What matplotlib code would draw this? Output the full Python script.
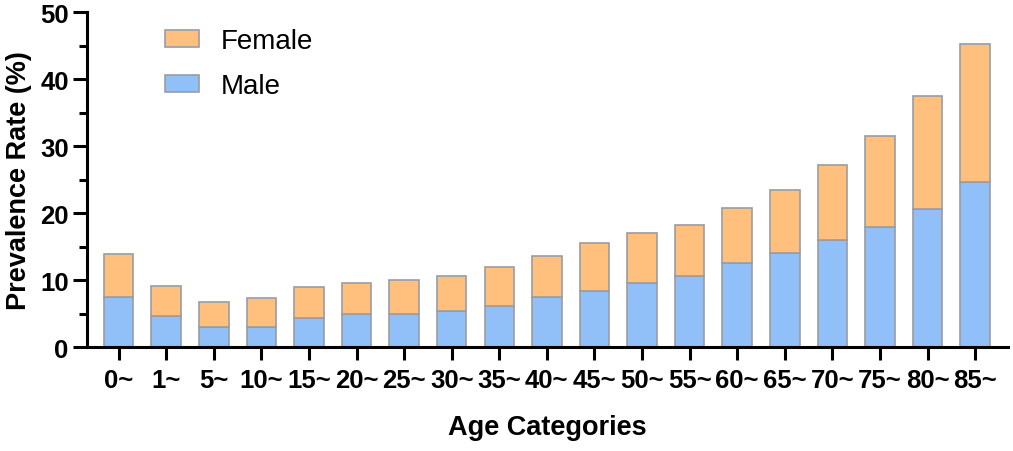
import numpy as np
import matplotlib
matplotlib.use("Agg")
from matplotlib import pyplot as plt
from matplotlib.ticker import MultipleLocator

# data (stacked tops)
ages = ['0~', '1~', '5~', '10~', '15~', '20~', '25~', '30~', '35~', '40~',
        '45~', '50~', '55~', '60~', '65~', '70~', '75~', '80~', '85~']
male = [7.4, 4.6, 3.0, 3.0, 4.3, 4.9, 5.0, 5.4, 6.2, 7.4,
        8.4, 9.5, 10.6, 12.5, 14.1, 16.0, 17.9, 20.6, 24.6]
total = [13.9, 9.1, 6.7, 7.3, 9.0, 9.6, 10.0, 10.6, 12.0, 13.6,
         15.5, 17.0, 18.2, 20.8, 23.5, 27.2, 31.5, 37.5, 45.2]
female = [t - m for t, m in zip(total, male)]

plt.rcParams['font.family'] = ['Liberation Sans', 'DejaVu Sans']

fig = plt.figure(figsize=(10.13, 4.52), dpi=100)
ax = fig.add_axes([0.0856, 0.230, 0.9094, 0.7406])

x = np.arange(len(ages))
edge = '#9a9ca3'
ax.bar(x, male, width=0.62, color='#91bff7', edgecolor=edge, linewidth=1.2, label='Male', zorder=2)
ax.bar(x, female, width=0.62, bottom=male, color='#ffc07e', edgecolor=edge, linewidth=1.2, label='Female', zorder=2)

ax.set_xlim(-0.67, 18.69)
ax.set_ylim(0, 50)
ax.yaxis.set_major_locator(MultipleLocator(10))
ax.yaxis.set_minor_locator(MultipleLocator(5))
ax.set_xticks(x)
ax.set_xticklabels(ages, fontsize=18.5, fontweight='bold')
for lab in ax.get_yticklabels():
    lab.set_fontsize(18.5)
    lab.set_fontweight('bold')

for s in ['top', 'right']:
    ax.spines[s].set_visible(False)
for s in ['left', 'bottom']:
    ax.spines[s].set_linewidth(2.2)
ax.tick_params(axis='y', which='major', length=10, width=2.2, pad=3)
ax.tick_params(axis='y', which='minor', length=6, width=2.2)
ax.tick_params(axis='x', which='major', length=9, width=2.2, pad=6)

ax.set_ylabel('Prevalence Rate (%)', fontsize=19.5, fontweight='bold', labelpad=6)
ax.set_xlabel('Age Categories', fontsize=19.5, fontweight='bold', labelpad=16)

# legend: Female on top, Male below
h, l = ax.get_legend_handles_labels()
ax.legend(h[::-1], l[::-1], loc='upper left', bbox_to_anchor=(0.085, 0.952), frameon=False,
          borderpad=0, borderaxespad=0, fontsize=20, handlelength=1.22, handleheight=0.59,
          handletextpad=0.8, labelspacing=0.68)

fig.savefig('out.png', dpi=100)
